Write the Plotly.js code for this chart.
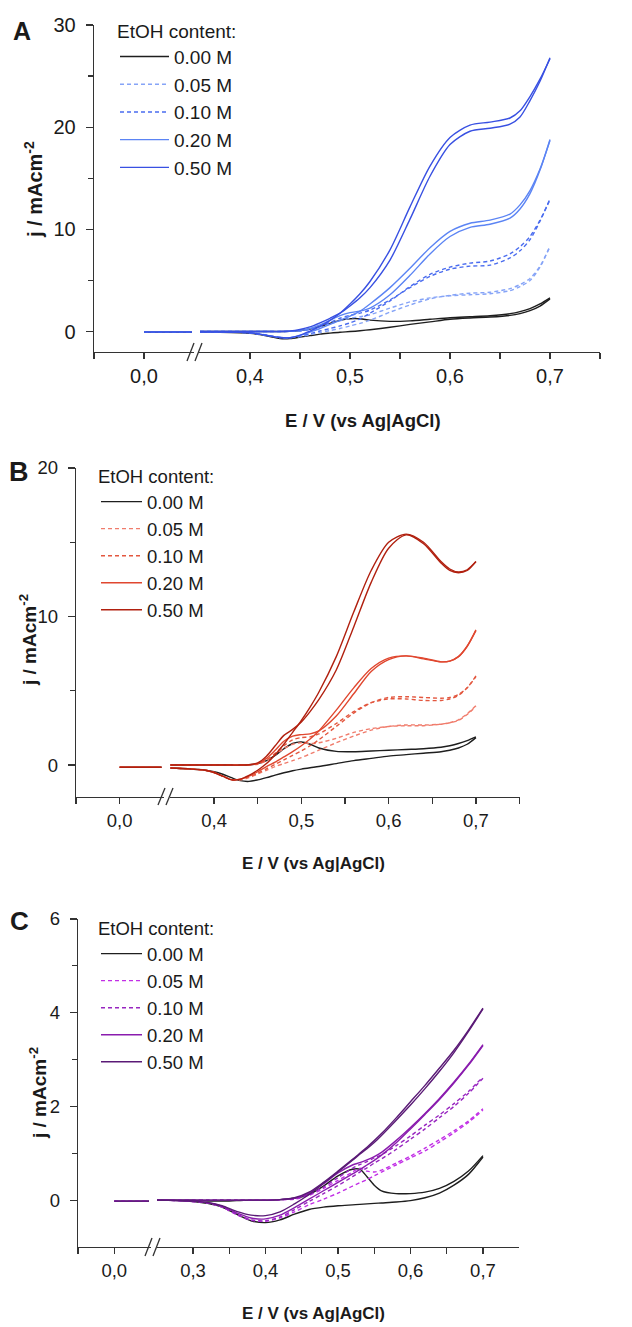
<!DOCTYPE html>
<html><head><meta charset="utf-8">
<script src="https://cdn.plot.ly/plotly-3.0.1.min.js"></script>
<style>html,body{margin:0;padding:0;background:#fff}</style>
</head><body><div id="chart" style="width:632px;height:1327px"></div>
<script>
// ---------------- data ----------------
const concLabels = ['0.00 M', '0.05 M', '0.10 M', '0.20 M', '0.50 M'];
const legendTitle = 'EtOH content:';
const xTitle = 'E / V (vs Ag|AgCl)';
const yTitle = 'j / mAcm<sup>-2</sup>';
const panelLetters = ['A', 'B', 'C'];

// potential grids (V vs Ag|AgCl)
const leftE = [0.0, 0.048];
const gridAB = [0.35,0.37,0.39,0.40,0.41,0.42,0.43,0.44,0.45,0.46,0.47,0.48,0.49,0.50,0.51,0.52,0.54,0.56,0.58,0.60,0.62,0.64,0.66,0.67,0.68,0.69,0.70];
const gridC  = [0.25,0.28,0.30,0.32,0.34,0.36,0.38,0.40,0.42,0.44,0.46,0.48,0.50,0.52,0.53,0.54,0.55,0.56,0.58,0.60,0.62,0.64,0.66,0.68,0.70];

// Panel A (blue) - anodic (fwd) and cathodic (rev) scans, j in mA cm-2
const A_000_fwd = [0,0,0,0,0,0,0,0.02,0.1,0.25,0.5,0.8,1.1,1.25,1.25,1.12,1.0,1.05,1.2,1.35,1.45,1.55,1.75,1.95,2.25,2.7,3.3];
const A_000_rev = [-0.08,-0.08,-0.12,-0.18,-0.3,-0.5,-0.68,-0.68,-0.55,-0.4,-0.25,-0.15,-0.06,0.0,0.08,0.18,0.42,0.7,0.95,1.2,1.33,1.42,1.58,1.76,2.05,2.5,3.2];
const A_005_fwd = [0,0,0,0,0,0,0,0.02,0.05,0.2,0.45,0.75,1.05,1.3,1.45,1.65,2.3,2.9,3.3,3.5,3.6,3.7,4.0,4.4,5.0,6.3,8.4];
const A_005_rev = [-0.05,-0.05,-0.08,-0.12,-0.25,-0.42,-0.58,-0.6,-0.5,-0.3,-0.1,0.1,0.3,0.55,0.8,1.1,1.9,2.6,3.2,3.55,3.75,3.85,4.2,4.6,5.2,6.4,8.3];
const A_010_fwd = [0,0,0,0,0,0,0,0.02,0.08,0.25,0.55,0.9,1.3,1.6,1.8,2.1,3.1,4.3,5.4,6.1,6.4,6.5,7.2,7.9,9.0,10.8,13.0];
const A_010_rev = [-0.05,-0.05,-0.08,-0.12,-0.25,-0.42,-0.58,-0.6,-0.45,-0.2,0.05,0.3,0.55,0.85,1.25,1.8,3.0,4.4,5.6,6.3,6.7,6.9,7.6,8.3,9.3,10.9,12.9];
const A_020_fwd = [0,0,0,0,0,0,0,0.02,0.1,0.3,0.65,1.1,1.55,1.85,2.0,2.3,3.6,5.5,7.6,9.3,10.2,10.5,11.1,12.0,13.5,15.8,18.8];
const A_020_rev = [-0.05,-0.05,-0.08,-0.12,-0.25,-0.42,-0.58,-0.6,-0.4,-0.05,0.3,0.7,1.1,1.5,2.0,2.7,4.3,6.2,8.2,9.8,10.6,10.9,11.5,12.4,13.8,15.9,18.7];
const A_050_fwd = [0,0,0,0,0,0,0,0.05,0.2,0.45,0.85,1.3,1.8,2.5,3.3,4.3,7.0,11.0,15.2,18.3,19.6,19.9,20.3,21.0,22.6,24.5,26.8];
const A_050_rev = [-0.05,-0.05,-0.08,-0.12,-0.25,-0.42,-0.58,-0.6,-0.35,0.05,0.5,1.1,1.8,2.7,3.7,4.9,8.0,12.2,16.2,19.0,20.2,20.5,20.9,21.6,23.0,24.7,26.7];
const A_left = [-0.06,-0.05,-0.05,-0.05,-0.05];

// Panel B (red)
const B_000_fwd = [0,0,0,0,0,0,0,0.02,0.1,0.3,0.65,1.1,1.45,1.55,1.4,1.15,0.92,0.9,0.95,1.0,1.05,1.1,1.2,1.3,1.45,1.65,1.9];
const B_000_rev = [-0.2,-0.25,-0.35,-0.45,-0.62,-0.85,-1.05,-1.1,-1.0,-0.85,-0.68,-0.52,-0.38,-0.27,-0.18,-0.1,0.1,0.3,0.45,0.6,0.7,0.8,0.9,1.0,1.15,1.4,1.85];
const B_005_fwd = [0,0,0,0,0,0,0,0.02,0.05,0.3,0.7,1.1,1.4,1.5,1.45,1.5,1.8,2.2,2.45,2.6,2.65,2.65,2.75,2.85,3.05,3.45,4.0];
const B_005_rev = [-0.2,-0.25,-0.35,-0.5,-0.75,-0.98,-1.0,-0.85,-0.6,-0.35,-0.1,0.1,0.3,0.5,0.75,1.0,1.5,1.95,2.35,2.6,2.7,2.7,2.75,2.85,3.0,3.4,3.95];
const B_010_fwd = [0,0,0,0,0,0,0,0.02,0.08,0.35,0.8,1.3,1.7,1.85,1.9,2.1,2.8,3.6,4.2,4.45,4.45,4.35,4.35,4.45,4.7,5.2,6.0];
const B_010_rev = [-0.2,-0.25,-0.35,-0.5,-0.75,-0.98,-0.98,-0.8,-0.55,-0.25,0.05,0.35,0.65,0.95,1.3,1.7,2.6,3.5,4.2,4.55,4.6,4.55,4.5,4.55,4.75,5.2,5.95];
const B_020_fwd = [0,0,0,0,0,0,0,0.02,0.1,0.45,1.0,1.6,1.95,2.05,2.1,2.3,3.3,4.8,6.3,7.1,7.35,7.15,6.95,7.0,7.3,8.0,9.1];
const B_020_rev = [-0.2,-0.25,-0.35,-0.5,-0.75,-0.98,-0.95,-0.75,-0.45,-0.1,0.2,0.55,0.9,1.3,1.75,2.3,3.7,5.2,6.5,7.2,7.35,7.2,6.95,7.0,7.3,8.0,9.05];
const B_050_fwd = [0,0,0,0,0,0,0,0.02,0.15,0.6,1.3,2.0,2.4,2.9,3.6,4.4,6.4,9.3,12.3,14.6,15.5,14.9,13.6,13.1,12.95,13.1,13.7];
const B_050_rev = [-0.2,-0.25,-0.35,-0.5,-0.75,-1.0,-0.95,-0.7,-0.35,0.1,0.7,1.4,2.2,3.0,3.9,4.9,7.3,10.3,13.1,15.0,15.55,15.0,13.7,13.2,13.0,13.15,13.7];
const B_left = [-0.15,-0.15,-0.15,-0.15,-0.15];

// Panel C (purple)
const C_000_fwd = [0,0,0,-0.02,-0.02,-0.01,0,0,0.01,0.04,0.12,0.3,0.52,0.66,0.66,0.5,0.32,0.2,0.14,0.14,0.17,0.25,0.4,0.62,0.95];
const C_000_rev = [0,-0.01,-0.03,-0.07,-0.15,-0.3,-0.44,-0.48,-0.42,-0.3,-0.2,-0.15,-0.12,-0.1,-0.09,-0.08,-0.07,-0.06,-0.04,-0.01,0.05,0.15,0.32,0.55,0.92];
const C_005_fwd = [0,0,0,0,0,0,0,0,0.01,0.02,0.1,0.25,0.42,0.6,0.68,0.62,0.6,0.64,0.79,0.94,1.11,1.29,1.48,1.69,1.95];
const C_005_rev = [0,-0.01,-0.03,-0.06,-0.15,-0.31,-0.43,-0.45,-0.38,-0.25,-0.1,0.02,0.15,0.3,0.37,0.44,0.52,0.6,0.75,0.9,1.05,1.24,1.44,1.66,1.92];
const C_010_fwd = [0,0,0,0,0,0,0,0,0.01,0.03,0.12,0.28,0.48,0.68,0.76,0.82,0.9,0.97,1.16,1.37,1.6,1.82,2.06,2.32,2.63];
const C_010_rev = [0,-0.01,-0.03,-0.06,-0.14,-0.3,-0.42,-0.44,-0.36,-0.2,-0.03,0.14,0.31,0.5,0.6,0.69,0.79,0.88,1.08,1.3,1.52,1.76,2.0,2.28,2.6];
const C_020_fwd = [0,0,0,0,0,0,0,0,0.01,0.04,0.15,0.35,0.58,0.75,0.8,0.86,0.93,1.02,1.27,1.55,1.85,2.17,2.52,2.9,3.32];
const C_020_rev = [0,-0.01,-0.02,-0.05,-0.13,-0.27,-0.38,-0.4,-0.32,-0.16,0.02,0.2,0.38,0.56,0.65,0.75,0.85,0.96,1.22,1.52,1.83,2.15,2.5,2.88,3.3];
const C_050_fwd = [0,0,0,0,0,0,0,0,0.01,0.05,0.17,0.38,0.62,0.87,1.0,1.13,1.27,1.42,1.75,2.1,2.45,2.82,3.2,3.63,4.1];
const C_050_rev = [0,-0.01,-0.02,-0.05,-0.12,-0.24,-0.32,-0.33,-0.25,-0.08,0.12,0.36,0.6,0.85,0.98,1.1,1.23,1.38,1.7,2.03,2.38,2.75,3.15,3.6,4.08];
const C_left = [-0.02,-0.02,-0.02,-0.02,-0.02];

// ticks
const A_xticksLeft = [0.0], A_xticksRight = [0.4,0.5,0.6,0.7];
const B_xticksLeft = [0.0], B_xticksRight = [0.4,0.5,0.6,0.7];
const C_xticksLeft = [0.0], C_xticksRight = [0.3,0.4,0.5,0.6,0.7];
const A_yticks = [0,10,20,30], B_yticks = [0,10,20], C_yticks = [0,2,4,6];

// ---------------- styling ----------------
const W = 632, H = 1327;
const px = v => v / W, py = v => 1 - v / H;
const FONT_A = 'Liberation Sans, Arial, sans-serif';
const FONT_BC = '"Liberation Sans Narrow", "Arial Narrow", Liberation Sans, Arial, sans-serif';
const AX = '#333', TXT = '#1a1a1a';
const DASH = '4px,3px';

const panels = [
  { fwd:[A_000_fwd,A_005_fwd,A_010_fwd,A_020_fwd,A_050_fwd], rev:[A_000_rev,A_005_rev,A_010_rev,A_020_rev,A_050_rev],
    left:A_left, grid:gridAB, colors:['#1e1e1e','#86a4f7','#4a6cef','#5b84f4','#3850e2'],
    xl:'x', xr:'x2', y:'y', leg:'legend' },
  { fwd:[B_000_fwd,B_005_fwd,B_010_fwd,B_020_fwd,B_050_fwd], rev:[B_000_rev,B_005_rev,B_010_rev,B_020_rev,B_050_rev],
    left:B_left, grid:gridAB, colors:['#1e1e1e','#f07c6c','#e3573f','#e0472f','#b1200f'],
    xl:'x3', xr:'x4', y:'y2', leg:'legend2' },
  { fwd:[C_000_fwd,C_005_fwd,C_010_fwd,C_020_fwd,C_050_fwd], rev:[C_000_rev,C_005_rev,C_010_rev,C_020_rev,C_050_rev],
    left:C_left, grid:gridC, colors:['#1e1e1e','#c22fe6','#9826c0','#8a1cae','#5a1a76'],
    xl:'x5', xr:'x6', y:'y3', leg:'legend3' }
];
const dashes = ['solid', DASH, DASH, 'solid', 'solid'];

const traces = [];
panels.forEach((p, pi) => {
  concLabels.forEach((lab, i) => {
    traces.push({
      type:'scatter', mode:'lines', name:lab, legend:p.leg, legendgroup:'p'+pi+'c'+i,
      x: p.grid.concat([null], p.grid), y: p.fwd[i].concat([null], p.rev[i]),
      xaxis:p.xr, yaxis:p.y, connectgaps:false,
      line:{color:p.colors[i], width:1.4, dash:dashes[i], shape:'spline', smoothing:0.8},
      hoverinfo:'skip'
    });
  });
  concLabels.forEach((lab, i) => {
    traces.push({
      type:'scatter', mode:'lines', name:lab, legend:p.leg, legendgroup:'p'+pi+'c'+i, showlegend:false,
      x: leftE, y: [p.left[i], p.left[i]], xaxis:p.xl, yaxis:p.y,
      line:{color:p.colors[i], width:1.4, dash:dashes[i]}, hoverinfo:'skip'
    });
  });
});

function xAxis(dom, range, tickvals, minorvals, anchor, font, fsize) {
  return {
    domain:[px(dom[0]), px(dom[1])], range:range, anchor:anchor, fixedrange:true,
    tickmode:'array', tickvals:tickvals, tickformat:'.1f',
    ticks:'outside', ticklen:6, tickwidth:1.2, tickcolor:AX,
    showline:true, linecolor:AX, linewidth:1.3, showgrid:false, zeroline:false,
    minor:{tickmode:'array', tickvals:minorvals, ticks:'outside', ticklen:6, tickwidth:1.2, tickcolor:AX, showgrid:false},
    tickfont:{family:font, size:fsize, color:TXT}, ticklabelstandoff:0
  };
}
function yAxis(dom, range, tickvals, minorvals, anchor, font, fsize) {
  return {
    domain:[py(dom[1]), py(dom[0])], range:range, anchor:anchor, fixedrange:true,
    tickmode:'array', tickvals:tickvals,
    ticks:'outside', ticklen:7, tickwidth:1.2, tickcolor:AX,
    showline:true, linecolor:AX, linewidth:1.3, showgrid:false, zeroline:false,
    minor:{tickmode:'array', tickvals:minorvals, ticks:'outside', ticklen:5, tickwidth:1.2, tickcolor:AX, showgrid:false},
    tickfont:{family:font, size:fsize, color:TXT}, ticklabelstandoff:6
  };
}

function legendBox(x, y, font, fsize, iw) {
  return {
    x:px(x), y:py(y), xanchor:'left', yanchor:'top', bgcolor:'rgba(0,0,0,0)', borderwidth:0,
    font:{family:font, size:fsize, color:TXT}, itemwidth:iw, tracegroupgap:0,
    title:{text:legendTitle, font:{family:font, size:fsize, color:TXT}}
  };
}

function slash(x0, y0, x1, y1) {
  return {type:'line', xref:'paper', yref:'paper', x0:px(x0), y0:py(y0), x1:px(x1), y1:py(y1), line:{color:AX, width:1.3}};
}

function ann(text, x, y, font, size, angle) {
  return {text:text, x:px(x), y:py(y), xref:'paper', yref:'paper', showarrow:false, xanchor:'center', yanchor:'middle',
          textangle:angle || 0, font:{family:font, size:size, color:TXT}};
}

const layout = {
  width:W, height:H, margin:{l:0, r:0, t:0, b:0}, paper_bgcolor:'#fff', plot_bgcolor:'rgba(0,0,0,0)',
  separators:', ', showlegend:true,
  // Panel A
  xaxis:  xAxis([94,194],  [-0.05,0.05],   A_xticksLeft,  [-0.05],               'y',  FONT_A, 20),
  xaxis2: xAxis([198,600], [0.348,0.75],   A_xticksRight, [0.45,0.55,0.65,0.75], 'y',  FONT_A, 20),
  yaxis:  yAxis([25,352],  [-2,30],        A_yticks,      [5,15,25],             'x',  FONT_A, 20),
  // Panel B
  xaxis3: xAxis([76,164],  [-0.05,0.0508], B_xticksLeft,  [-0.05],               'y2', FONT_BC, 18.5),
  xaxis4: xAxis([170,520], [0.3495,0.7505],B_xticksRight, [0.45,0.55,0.65,0.75], 'y2', FONT_BC, 18.5),
  yaxis2: yAxis([468,797], [-2.15,20],     B_yticks,      [5,15],                'x3', FONT_BC, 18.5),
  // Panel C
  xaxis5: xAxis([78,151],  [-0.05,0.0507], C_xticksLeft,  [-0.05],               'y3', FONT_BC, 18.5),
  xaxis6: xAxis([157,519], [0.2503,0.7497],C_xticksRight, [0.35,0.45,0.55,0.65,0.75], 'y3', FONT_BC, 18.5),
  yaxis3: yAxis([919,1247],[-1,6],         C_yticks,      [1,3,5],               'x5', FONT_BC, 18.5),
  legend:  legendBox(115, 13, FONT_A, 19, 49),
  legend2: legendBox(96, 459, FONT_BC, 18.5, 41),
  legend3: legendBox(96, 911, FONT_BC, 18.5, 41),
  shapes:[
    slash(187,361,194,343), slash(195,361,202,343),
    slash(158,805,165,788), slash(166,805,173,788),
    slash(145,1256,152,1238), slash(153,1256,160,1238)
  ],
  annotations:[
    ann('<b>'+panelLetters[0]+'</b>', 22, 31, FONT_A, 25),
    ann('<b>'+panelLetters[1]+'</b>', 19, 472, FONT_A, 27),
    ann('<b>'+panelLetters[2]+'</b>', 19, 921, FONT_A, 26),
    ann('<b>'+xTitle+'</b>', 363, 421, FONT_A, 18.5),
    ann('<b>'+xTitle+'</b>', 313, 863, FONT_BC, 17),
    ann('<b>'+xTitle+'</b>', 313, 1313, FONT_BC, 17),
    ann('<b>'+yTitle+'</b>', 33, 190, FONT_A, 20, -90),
    ann('<b>'+yTitle+'</b>', 28, 640, FONT_BC, 19, -90),
    ann('<b>'+yTitle+'</b>', 38, 1093, FONT_BC, 19, -90)
  ]
};

Plotly.newPlot('chart', traces, layout, {staticPlot:true, displayModeBar:false});
</script></body></html>
